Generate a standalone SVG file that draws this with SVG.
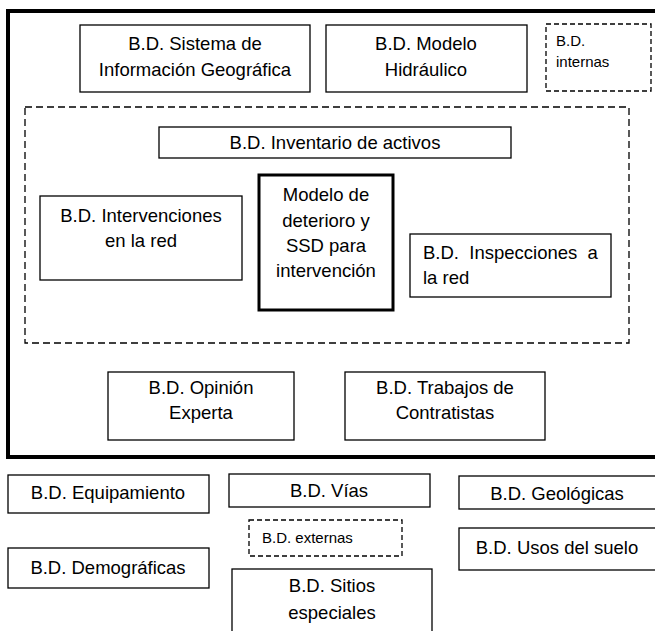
<svg xmlns="http://www.w3.org/2000/svg" width="655" height="631" viewBox="0 0 655 631">
<style>
  .box{fill:#fff;stroke:#000;stroke-width:1.3}
  .dash{fill:none;stroke:#000;stroke-width:1.3;stroke-dasharray:7 4}
  .dash2{fill:none;stroke:#000;stroke-width:1.3;stroke-dasharray:5 3}
  .thick{fill:#fff;stroke:#000;stroke-width:3}
  .outer{fill:none;stroke:#000;stroke-width:4}
  text{font-family:"Liberation Sans",Arial,sans-serif;font-size:18.5px;fill:#000}
  .c{text-anchor:middle}
  .s{font-size:15px}
</style>
<rect width="655" height="631" fill="#fff"/>
<g id="outer"><rect class="outer" x="8" y="11" width="660" height="446"/></g>
<g id="internal-group"><rect class="dash" x="25" y="107" width="604" height="236"/></g>
<g id="sig"><rect class="box" x="80" y="25" width="230" height="67"/>
  <text class="c" x="195" y="50">B.D. Sistema de</text><text class="c" x="195" y="76">Información Geográfica</text></g>
<g id="hidraulico"><rect class="box" x="326" y="25" width="201" height="67"/>
  <text class="c" x="426" y="50">B.D. Modelo</text><text class="c" x="426" y="76">Hidráulico</text></g>
<g id="internas"><rect class="dash2" x="546" y="24" width="105" height="67"/>
  <text class="s" x="556" y="46">B.D.</text><text class="s" x="556" y="67">internas</text></g>
<g id="inventario"><rect class="box" x="159" y="127" width="352" height="31"/>
  <text class="c" x="335" y="149">B.D. Inventario de activos</text></g>
<g id="intervenciones"><rect class="box" x="40" y="196" width="202" height="84"/>
  <text class="c" x="141" y="222">B.D. Intervenciones</text><text class="c" x="141" y="247">en la red</text></g>
<g id="modelo"><rect class="thick" x="259" y="175" width="134" height="135"/>
  <text class="c" x="326" y="201">Modelo de</text><text class="c" x="326" y="227">deterioro y</text><text class="c" x="326" y="252">SSD para</text><text class="c" x="326" y="277">intervención</text></g>
<g id="inspecciones"><rect class="box" x="410" y="234" width="201" height="63"/>
  <text x="423" y="259" xml:space="preserve">B.D.  Inspecciones  a</text><text x="423" y="284">la red</text></g>
<g id="opinion"><rect class="box" x="108" y="372" width="186" height="68"/>
  <text class="c" x="201" y="394">B.D. Opinión</text><text class="c" x="201" y="419">Experta</text></g>
<g id="contratistas"><rect class="box" x="345" y="372" width="200" height="68"/>
  <text class="c" x="445" y="394">B.D. Trabajos de</text><text class="c" x="445" y="419">Contratistas</text></g>
<g id="equipamiento"><rect class="box" x="8" y="475" width="201" height="38"/>
  <text class="c" x="108" y="499">B.D. Equipamiento</text></g>
<g id="vias"><rect class="box" x="229" y="474" width="201" height="33"/>
  <text class="c" x="329" y="497">B.D. Vías</text></g>
<g id="geologicas"><rect class="box" x="459" y="476" width="200" height="33"/>
  <text class="c" x="557" y="500">B.D. Geológicas</text></g>
<g id="externas"><rect class="dash2" x="249" y="520" width="153" height="36"/>
  <text class="s" x="262" y="543">B.D. externas</text></g>
<g id="usos"><rect class="box" x="459" y="528" width="200" height="42"/>
  <text class="c" x="557" y="554">B.D. Usos del suelo</text></g>
<g id="demograficas"><rect class="box" x="8" y="548" width="201" height="40"/>
  <text class="c" x="108" y="574">B.D. Demográficas</text></g>
<g id="sitios"><rect class="box" x="232" y="569" width="200" height="70"/>
  <text class="c" x="332" y="592">B.D. Sitios</text><text class="c" x="332" y="619">especiales</text></g>
<g id="connectors"></g>
</svg>
